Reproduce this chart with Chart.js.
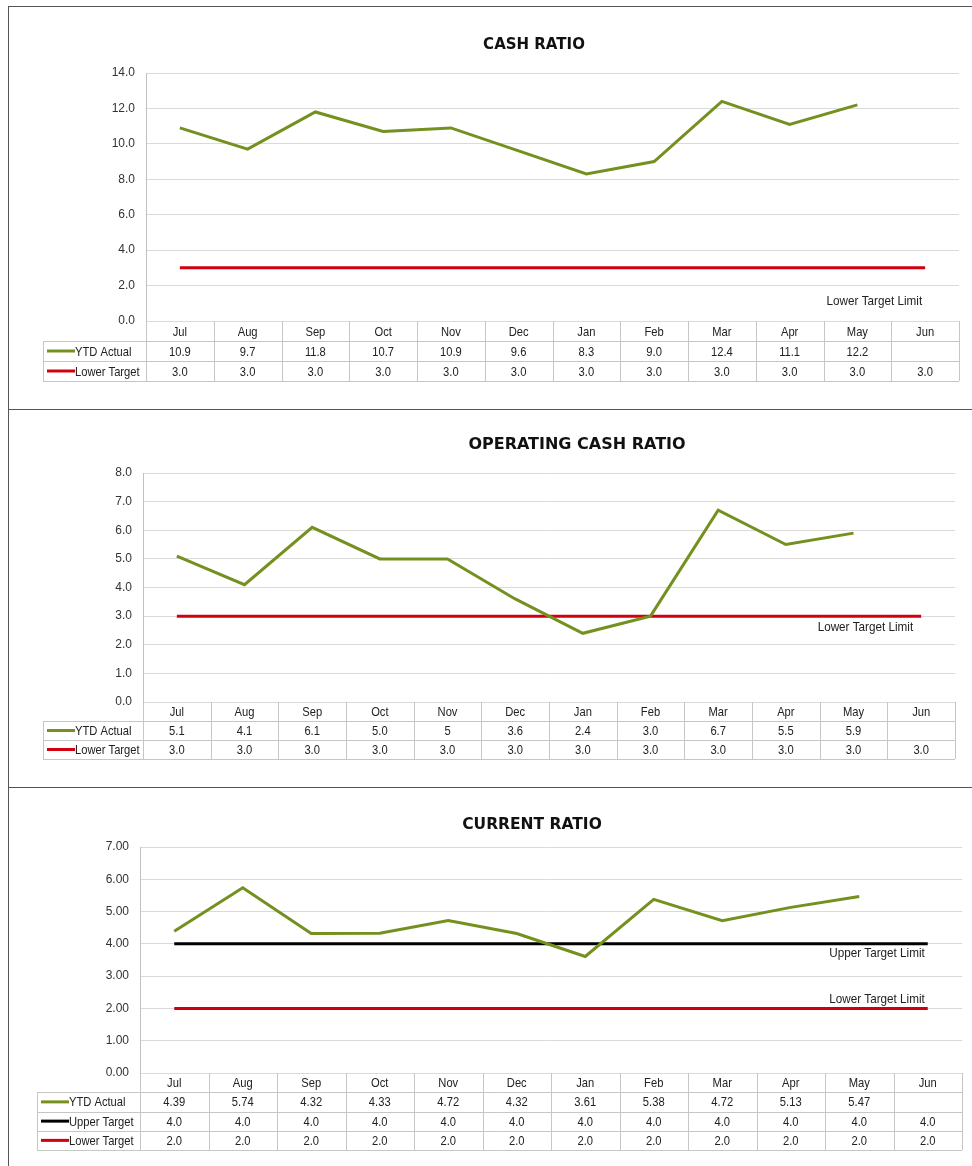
<!DOCTYPE html>
<html><head><meta charset="utf-8">
<script src="https://cdn.jsdelivr.net/npm/chart.js@4.4.0/dist/chart.umd.min.js"></script>
<style>
html,body{margin:0;padding:0;background:#fff;}
#page{position:relative;width:972px;height:1166px;overflow:hidden;background:#fff;}
canvas{position:absolute;left:0;}
.hl{position:absolute;left:8px;right:0;height:1px;background:#555;z-index:2;}
.vl{position:absolute;left:8px;width:1px;top:6px;bottom:0;background:#555;z-index:2;}
</style></head><body>
<div id="page">
<canvas id="c1" width="972" height="410" style="top:0px"></canvas>
<canvas id="c2" width="972" height="378" style="top:410px"></canvas>
<canvas id="c3" width="972" height="378" style="top:788px"></canvas>
<div class="hl" style="top:6px"></div>
<div class="hl" style="top:409px"></div>
<div class="hl" style="top:787px"></div>
<div class="vl"></div>
</div>
<script>
// ---------- DATA ----------
const months = ['Jul','Aug','Sep','Oct','Nov','Dec','Jan','Feb','Mar','Apr','May','Jun'];

const cashTitle = 'CASH RATIO';
const cashActual = [10.9, 9.7, 11.8, 10.7, 10.9, 9.6, 8.3, 9.0, 12.4, 11.1, 12.2, null];
const cashLower  = [3.0, 3.0, 3.0, 3.0, 3.0, 3.0, 3.0, 3.0, 3.0, 3.0, 3.0, 3.0];
const cashTicks  = [0, 2, 4, 6, 8, 10, 12, 14];

const opTitle = 'OPERATING CASH RATIO';
const opActual = [5.1, 4.1, 6.1, 5.0, 5, 3.6, 2.4, 3.0, 6.7, 5.5, 5.9, null];
const opActualText = ['5.1','4.1','6.1','5.0','5','3.6','2.4','3.0','6.7','5.5','5.9',''];
const opLower  = [3.0, 3.0, 3.0, 3.0, 3.0, 3.0, 3.0, 3.0, 3.0, 3.0, 3.0, 3.0];
const opTicks  = [0, 1, 2, 3, 4, 5, 6, 7, 8];

const curTitle = 'CURRENT RATIO';
const curActual = [4.39, 5.74, 4.32, 4.33, 4.72, 4.32, 3.61, 5.38, 4.72, 5.13, 5.47, null];
const curUpper  = [4.0, 4.0, 4.0, 4.0, 4.0, 4.0, 4.0, 4.0, 4.0, 4.0, 4.0, 4.0];
const curLower  = [2.0, 2.0, 2.0, 2.0, 2.0, 2.0, 2.0, 2.0, 2.0, 2.0, 2.0, 2.0];
const curTicks  = [0, 1, 2, 3, 4, 5, 6, 7];

// ---------- STYLE ----------
const GREEN = '#74901F', RED = '#D2000F', BLACK = '#000000';
const NARROW = '"Liberation Sans Narrow", "Arial Narrow", "Liberation Sans", Arial, sans-serif';
const TITLEFONT = '"DejaVu Sans", "Lato", sans-serif';
const SQUEEZE = 0.86;
const fmt = d => v => (v == null ? '' : v.toFixed(d));

function narrowText(ctx, t, x, y) {
  ctx.save();
  ctx.translate(x, y);
  ctx.scale(SQUEEZE, 1);
  ctx.fillText(t, 0, 0);
  ctx.restore();
}

const titlePlugin = {
  id: 'panelTitle',
  afterDraw(chart, args, o) {
    const ctx = chart.ctx;
    ctx.save();
    ctx.font = 'bold ' + o.size + 'px ' + TITLEFONT;
    ctx.fillStyle = '#111';
    ctx.textAlign = 'center';
    ctx.textBaseline = 'middle';
    ctx.fillText(o.text, o.x, o.y);
    ctx.restore();
  }
};

const notePlugin = {
  id: 'limitNotes',
  afterDatasetsDraw(chart, args, o) {
    const ctx = chart.ctx, x = chart.scales.x, y = chart.scales.y;
    ctx.save();
    ctx.font = '13.6px ' + NARROW;
    ctx.fillStyle = '#222';
    ctx.textAlign = 'right';
    ctx.textBaseline = 'middle';
    (o.notes || []).forEach(n => {
      narrowText(ctx, n.text, x.getPixelForValue(months.length - 1) + n.dx, y.getPixelForValue(n.value));
    });
    ctx.restore();
  }
};

const tablePlugin = {
  id: 'dataTable',
  afterDraw(chart, args, o) {
    const ctx = chart.ctx, a = chart.chartArea, x = chart.scales.x;
    const n = chart.data.labels.length, rh = o.rowH, rows = o.rows;
    const step = (a.right - a.left) / n;
    const bottom = a.bottom + rh * (rows.length + 1);
    const line = (x1, y1, x2, y2) => { ctx.beginPath(); ctx.moveTo(x1, y1); ctx.lineTo(x2, y2); ctx.stroke(); };
    ctx.save();
    ctx.strokeStyle = '#c6c6c6';
    ctx.lineWidth = 1;
    for (let i = 0; i <= n; i++) {
      const xx = Math.round(a.left + step * i) + 0.5;
      line(xx, a.bottom, xx, bottom);
    }
    for (let r = 0; r <= rows.length; r++) {
      const yy = Math.round(a.bottom + rh * (r + 1)) + 0.5;
      line(o.legendLeft, yy, a.right, yy);
    }
    line(o.legendLeft + 0.5, Math.round(a.bottom + rh) + 0.5, o.legendLeft + 0.5, Math.round(bottom) + 0.5);
    ctx.font = '13px ' + NARROW;
    ctx.fillStyle = '#222';
    ctx.textAlign = 'center';
    ctx.textBaseline = 'middle';
    chart.data.labels.forEach((lab, i) => narrowText(ctx, lab, x.getPixelForValue(i), a.bottom + rh / 2 + 1));
    rows.forEach((row, r) => {
      const cy = a.bottom + rh * (r + 1) + rh / 2 + 1;
      ctx.textAlign = 'center';
      ctx.fillStyle = '#222';
      row.text.forEach((t, i) => narrowText(ctx, t, x.getPixelForValue(i), cy));
      ctx.strokeStyle = row.color;
      ctx.lineWidth = 3;
      line(o.legendLeft + 4, cy - 1, o.legendLeft + 32, cy - 1);
      ctx.textAlign = 'left';
      narrowText(ctx, row.label, o.legendLeft + 32, cy);
      ctx.strokeStyle = '#c6c6c6';
      ctx.lineWidth = 1;
    });
    ctx.restore();
  }
};

function makeChart(id, g, labels, datasets, ticks, decimals, title, rows, notes) {
  const yW = 40;
  return new Chart(document.getElementById(id), {
    type: 'line',
    data: { labels: labels, datasets: datasets.map(d => ({
      label: d.label, data: d.data, borderColor: d.color, backgroundColor: d.color,
      borderWidth: 3, pointRadius: 0, pointHoverRadius: 0, tension: 0, fill: false
    })) },
    options: {
      responsive: false, animation: false, devicePixelRatio: 1,
      layout: { padding: { left: g.left - yW, right: g.width - g.right, top: g.top, bottom: g.height - g.bottom } },
      plugins: {
        legend: { display: false }, tooltip: { enabled: false }, title: { display: false },
        panelTitle: { text: title, x: g.titleX, y: g.titleY, size: g.titleSize },
        dataTable: { rows: rows, rowH: g.rowH, legendLeft: g.legendLeft },
        limitNotes: { notes: notes }
      },
      scales: {
        x: { display: false, offset: true },
        y: {
          min: ticks[0], max: ticks[ticks.length - 1],
          afterFit: s => { s.width = yW; },
          afterBuildTicks: s => { s.ticks = ticks.map(v => ({ value: v })); },
          grid: { color: '#dadada', drawTicks: false },
          border: { color: '#c0c0c0' },
          ticks: { padding: 11, color: '#333', font: { family: NARROW, size: 12 }, callback: v => Number(v).toFixed(decimals) }
        }
      }
    },
    plugins: [titlePlugin, tablePlugin, notePlugin]
  });
}

makeChart('c1',
  { width: 972, height: 410, left: 146, right: 959, top: 73, bottom: 321, rowH: 20, legendLeft: 43, titleX: 534, titleY: 45, titleSize: 15 },
  months,
  [{ label: 'YTD Actual', data: cashActual, color: GREEN }, { label: 'Lower Target', data: cashLower, color: RED }],
  cashTicks, 1, cashTitle,
  [{ label: 'YTD Actual', color: GREEN, text: cashActual.map(fmt(1)) },
   { label: 'Lower Target', color: RED, text: cashLower.map(fmt(1)) }],
  [{ text: 'Lower Target Limit', value: 1.13, dx: -3 }]
);

makeChart('c2',
  { width: 972, height: 378, left: 143, right: 955, top: 63, bottom: 292, rowH: 19, legendLeft: 43, titleX: 577, titleY: 35, titleSize: 16 },
  months,
  [{ label: 'YTD Actual', data: opActual, color: GREEN }, { label: 'Lower Target', data: opLower, color: RED }],
  opTicks, 1, opTitle,
  [{ label: 'YTD Actual', color: GREEN, text: opActualText },
   { label: 'Lower Target', color: RED, text: opLower.map(fmt(1)) }],
  [{ text: 'Lower Target Limit', value: 2.62, dx: -8 }]
);

makeChart('c3',
  { width: 972, height: 378, left: 140, right: 962, top: 59, bottom: 285, rowH: 19.25, legendLeft: 37, titleX: 532, titleY: 37, titleSize: 15.5 },
  months,
  [{ label: 'YTD Actual', data: curActual, color: GREEN },
   { label: 'Upper Target', data: curUpper, color: BLACK },
   { label: 'Lower Target', data: curLower, color: RED }],
  curTicks, 2, curTitle,
  [{ label: 'YTD Actual', color: GREEN, text: curActual.map(fmt(2)) },
   { label: 'Upper Target', color: BLACK, text: curUpper.map(fmt(1)) },
   { label: 'Lower Target', color: RED, text: curLower.map(fmt(1)) }],
  [{ text: 'Upper Target Limit', value: 3.72, dx: -3 }, { text: 'Lower Target Limit', value: 2.29, dx: -3 }]
);
</script>
</body></html>
